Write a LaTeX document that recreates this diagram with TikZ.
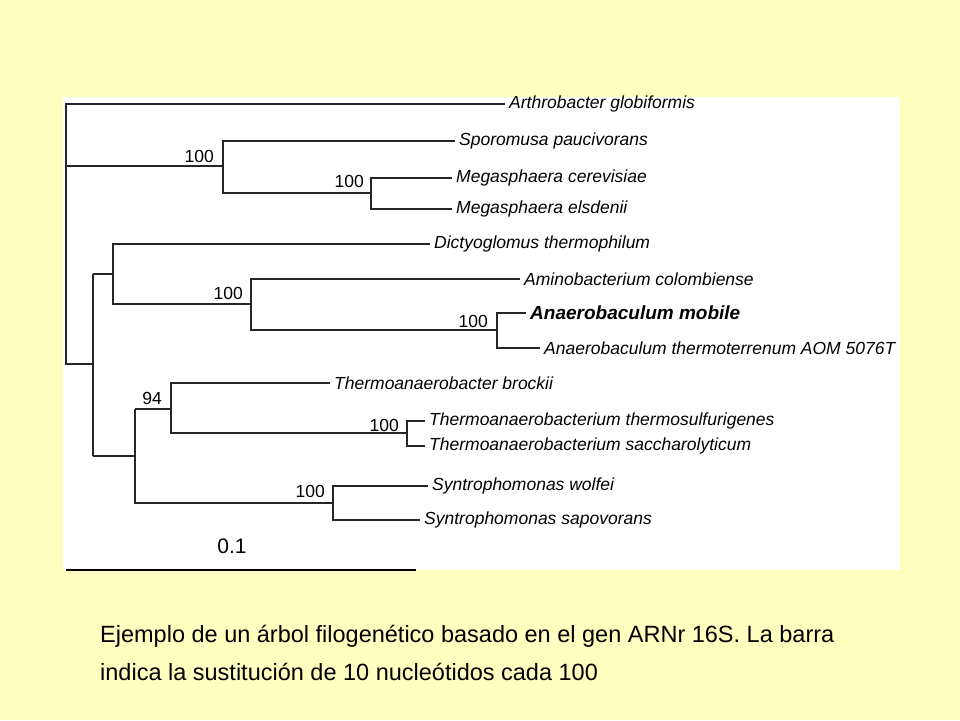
\documentclass[tikz,border=0pt]{standalone}
\usepackage{fontspec}
\setmainfont{Liberation Sans}
\begin{document}
\begin{tikzpicture}[x=1pt,y=-1pt,
  br/.style={line width=1.1pt,black!85},
  leaf/.style={anchor=west,inner xsep=4pt,inner ysep=1pt,font=\fontsize{17.5}{19}\selectfont\itshape},
  boot/.style={anchor=south east,inner sep=1pt,font=\fontsize{17.5}{19}\selectfont},
  captxt/.style={anchor=west,inner sep=0pt,font=\fontsize{23.5}{26}\selectfont}]
\useasboundingbox[fill={rgb,255:red,255;green,255;blue,192}] (0,0) rectangle (960,720);
\fill[white] (63,97) rectangle (900,570);
% leaves
\node[leaf] (l1) at (505,104) {Arthrobacter globiformis};
\node[leaf] (l2) at (455,141) {Sporomusa paucivorans};
\node[leaf] (l3) at (452,178) {Megasphaera cerevisiae};
\node[leaf] (l4) at (452,209) {Megasphaera elsdenii};
\node[leaf] (l5) at (430,244) {Dictyoglomus thermophilum};
\node[leaf] (l6) at (520,279) {Aminobacterium colombiense};
\node[leaf,font=\fontsize{19}{21}\selectfont\bfseries\itshape] (l7) at (526,313) {Anaerobaculum mobile};
\node[leaf] (l8) at (540,348) {Anaerobaculum thermoterrenum AOM 5076T};
\node[leaf] (l9) at (330,383) {Thermoanaerobacter brockii};
\node[leaf] (l10) at (425,421) {Thermoanaerobacterium thermosulfurigenes};
\node[leaf] (l11) at (425,446) {Thermoanaerobacterium saccharolyticum};
\node[leaf] (l12) at (428,486) {Syntrophomonas wolfei};
\node[leaf] (l13) at (420,520) {Syntrophomonas sapovorans};
% internal nodes
\coordinate (r) at (66,104);
\coordinate (rb) at (66,364);
\coordinate (a) at (223,166);
\coordinate (m) at (371,193);
\coordinate (b) at (93,364);
\coordinate (d) at (113,274);
\coordinate (e) at (251,304);
\coordinate (f) at (497,330);
\coordinate (t) at (135,456);
\coordinate (g) at (171,409);
\coordinate (h) at (407,433);
\coordinate (s) at (333,503);
\draw[br] (l1.west) -- (r) -- (rb) -- (b);
\draw[br] (r |- a) -- (a);
\draw[br] (l2.west) -| (a) |- (m) ;
\draw[br] (a |- l2) -- (a |- m);
\draw[br] (l3.west) -| (m) |- (l4.west);
\draw[br] (b |- d) -- (b |- t);
\draw[br] (b |- d) -- (d);
\draw[br] (l5.west) -| (d) |- (e);
\draw[br] (l6.west) -| (e) |- (f);
\draw[br] (l7.west) -| (f) |- (l8.west);
\draw[br] (b |- t) -- (t);
\draw[br] (t |- g) -- (g);
\draw[br] (t |- g) |- (s);
\draw[br] (l9.west) -| (g) |- (h);
\draw[br] (l10.west) -| (h) |- (l11.west);
\draw[br] (l12.west) -| (s) |- (l13.west);
% bootstrap
\node[boot] (b1) at (215,164) {100};
\node[boot] (b2) at (365,189) {100};
\node[boot] (b3) at (244,301) {100};
\node[boot] (b4) at (489,329) {100};
\node[boot] (b5) at (163,406) {94};
\node[boot] (b6) at (400,433) {100};
\node[boot] (b7) at (326,499) {100};
% scale
\node[font=\fontsize{21}{24}\selectfont] (sc) at (232,546) {0.1};
\coordinate (s1) at (66,570);
\coordinate (s2) at (416,570);
\draw[line width=1.2pt] (s1) -- (s2);
\node[captxt] (c1) at (100,636) {Ejemplo de un árbol filogenético basado en el gen ARNr 16S. La barra};
\node[captxt] (c2) at (100,672) {indica la sustitución de 10 nucleótidos cada 100};
\end{tikzpicture}
\end{document}
